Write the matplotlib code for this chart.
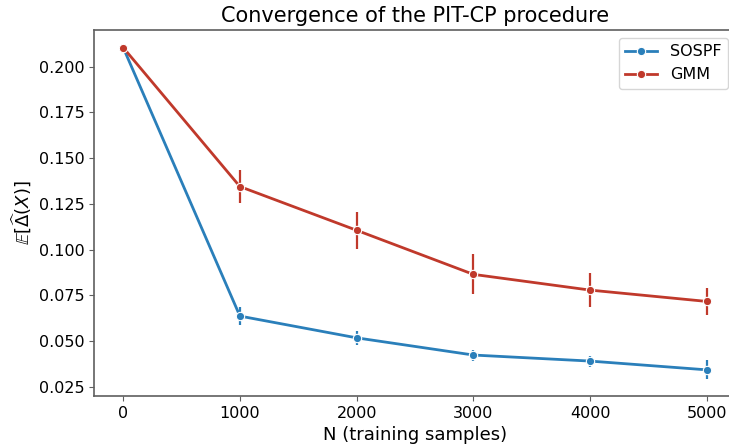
import matplotlib
matplotlib.use('Agg')
import matplotlib.pyplot as plt
import numpy as np

# training set sizes
n_samples = [0, 1000, 2000, 3000, 4000, 5000]

# mean delta and error bar half widths
sospf_mean = [0.2105, 0.0637, 0.0518, 0.0424, 0.0391, 0.0343]
sospf_err = [0.0005, 0.0050, 0.0040, 0.0030, 0.0030, 0.0052]
gmm_mean = [0.2105, 0.1345, 0.1106, 0.0865, 0.0779, 0.0717]
gmm_err = [0.0005, 0.0090, 0.0102, 0.0110, 0.0095, 0.0075]

blue = '#2a7fba'
red = '#c0392b'
spine_col = '#5f5f5f'

fig = plt.figure(figsize=(7.29, 4.47), dpi=100)
# axes run a bit past the right edge of the figure, like the original
ax = fig.add_axes([94/729, 1-396/447, 642/729, 366/447])

for mean, err, col, name in [(sospf_mean, sospf_err, blue, 'SOSPF'),
                             (gmm_mean, gmm_err, red, 'GMM')]:
    ax.plot(n_samples, mean, color=col, lw=2, marker='o', ms=6,
            markeredgecolor='white', markeredgewidth=0.8, label=name, zorder=3)
    ax.errorbar(n_samples, mean, yerr=err, fmt='none', ecolor=col,
                elinewidth=1.6, capsize=0, zorder=2)

ax.set_title('Convergence of the PIT-CP procedure', fontsize=15)
ax.set_xlabel('N (training samples)', fontsize=13)
ax.set_ylabel(r'$\mathbb{E}[\widehat{\Delta}(X)]$', fontsize=13)
ax.set_xticks([0, 1000, 2000, 3000, 4000, 5000])
ax.set_yticks([0.025, 0.05, 0.075, 0.1, 0.125, 0.15, 0.175, 0.2])
ax.set_yticklabels(['0.025', '0.050', '0.075', '0.100', '0.125', '0.150', '0.175', '0.200'])
ax.tick_params(labelsize=11.5, color=spine_col)
for s in ax.spines.values():
    s.set_color(spine_col)
    s.set_linewidth(1.2)

ax.legend(loc='upper right', fontsize=11.5, handlelength=2, frameon=True)

fig.savefig('out.png', dpi=100)
